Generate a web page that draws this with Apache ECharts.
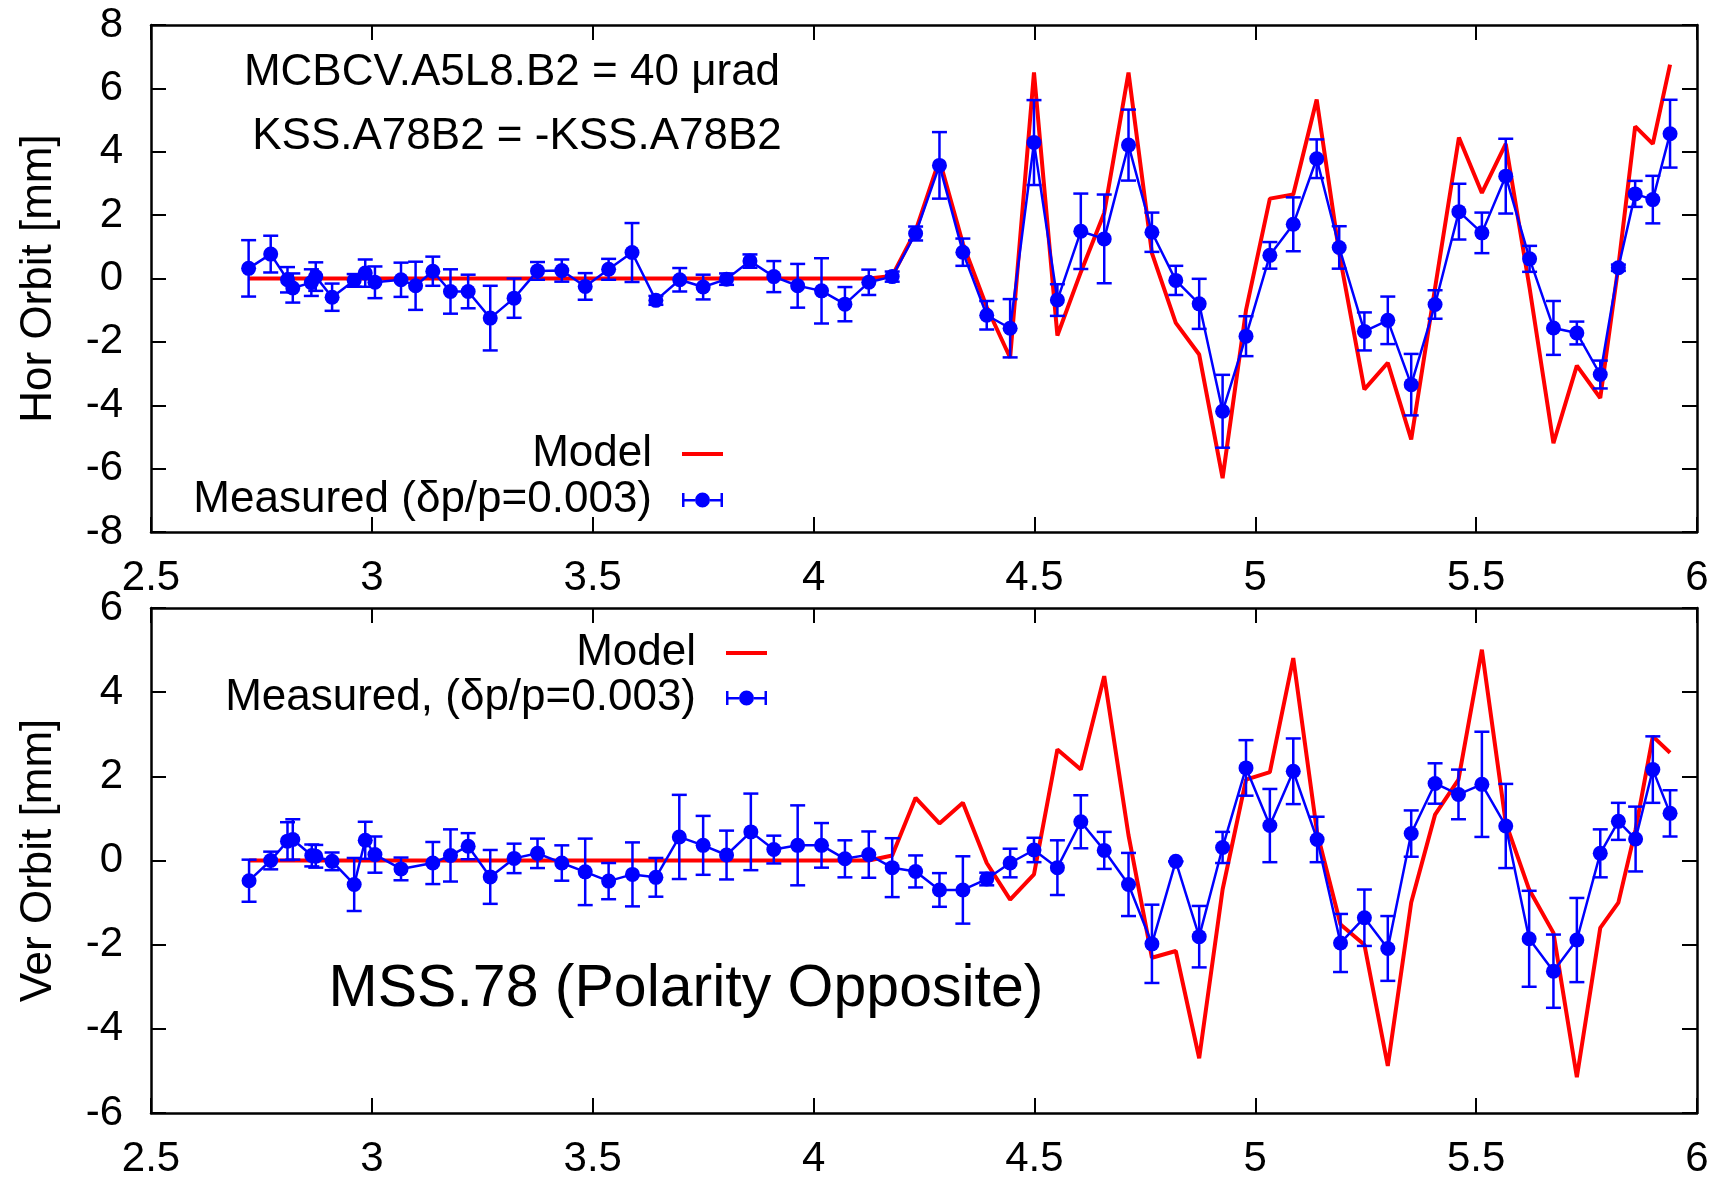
<!DOCTYPE html>
<html>
<head>
<meta charset="utf-8">
<script src="https://cdn.jsdelivr.net/npm/echarts@6/dist/echarts.min.js"></script>
<style>
html,body{margin:0;padding:0;background:#fff;}
#chart{width:1725px;height:1181px;}
</style>
</head>
<body>
<div id="chart"></div>
<script>
// ---------- Top panel (horizontal orbit) ----------
const topX = [2.721,2.771,2.809,2.821,2.863,2.873,2.91,2.96,2.985,3.007,
  3.066,3.099,3.138,3.178,3.218,3.268,3.322,3.375,3.43,3.483,
  3.536,3.589,3.643,3.697,3.75,3.803,3.856,3.91,3.964,4.018,
  4.071,4.125,4.178,4.231,4.285,4.338,4.392,4.445,4.499,4.552,
  4.605,4.658,4.713,4.766,4.82,4.873,4.926,4.979,5.033,5.086,
  5.139,5.19,5.247,5.30,5.353,5.407,5.461,5.513,5.567,5.621,
  5.675,5.728,5.781,5.822,5.86,5.9,5.939];
const topMeasured = [0.32,0.77,-0.04,-0.30,-0.13,0.06,-0.59,-0.06,0.17,-0.12,
  -0.04,-0.23,0.23,-0.41,-0.41,-1.25,-0.62,0.24,0.25,-0.25,
  0.29,0.82,-0.69,-0.04,-0.27,-0.02,0.55,0.06,-0.23,-0.39,
  -0.81,-0.12,0.06,1.42,3.57,0.83,-1.16,-1.57,4.29,-0.68,
  1.49,1.25,4.21,1.46,-0.06,-0.80,-4.19,-1.82,0.73,1.71,
  3.78,0.98,-1.67,-1.32,-3.35,-0.82,2.11,1.44,3.23,0.62,
  -1.56,-1.72,-3.03,0.34,2.67,2.49,4.57];
const topError = [0.89,0.58,0.40,0.46,0.42,0.45,0.43,0.20,0.43,0.50,
  0.54,0.76,0.46,0.70,0.53,1.02,0.62,0.28,0.35,0.42,
  0.33,0.93,0.14,0.37,0.39,0.18,0.21,0.49,0.69,1.03,
  0.54,0.40,0.16,0.22,1.05,0.43,0.45,0.92,1.34,0.50,
  1.19,1.40,1.12,0.62,0.46,0.79,1.15,0.63,0.42,0.85,
  0.61,0.67,0.60,0.75,0.97,0.45,0.88,0.64,1.18,0.41,
  0.85,0.36,0.44,0.10,0.41,0.75,1.07];
const topModel = [0,0,0,0,0,0,0,0,0,0,
  0,0,0,0,0,0,0,0,0,0,
  0,0,0,0,0,0,0,0,0,0,
  0,0,0.08,1.5,3.75,1.1,-0.9,-2.5,6.5,-1.8,
  0.2,2.07,6.5,0.8,-1.4,-2.4,-6.3,-1.0,2.52,2.65,
  5.65,0.8,-3.5,-2.66,-5.08,-0.3,4.45,2.7,4.25,-0.3,
  -5.2,-2.75,-3.77,0.39,4.8,4.25,6.75];

// ---------- Bottom panel (vertical orbit) ----------
const botX = [2.722,2.771,2.809,2.821,2.864,2.873,2.91,2.96,2.985,3.007,
  3.066,3.138,3.178,3.218,3.268,3.322,3.375,3.43,3.483,3.536,
  3.59,3.643,3.696,3.75,3.803,3.858,3.91,3.964,4.018,4.071,
  4.125,4.178,4.231,4.285,4.338,4.392,4.445,4.499,4.552,4.605,
  4.658,4.713,4.766,4.82,4.873,4.926,4.979,5.033,5.086,5.14,
  5.193,5.247,5.30,5.353,5.407,5.46,5.513,5.567,5.62,5.675,
  5.728,5.781,5.822,5.861,5.9,5.939];
const botMeasured = [-0.48,0.0,0.46,0.50,0.12,0.10,-0.02,-0.57,0.48,0.14,
  -0.20,-0.06,0.12,0.34,-0.39,0.05,0.17,-0.06,-0.27,-0.49,
  -0.33,-0.40,0.56,0.36,0.13,0.68,0.26,0.36,0.36,0.04,
  0.14,-0.17,-0.26,-0.70,-0.70,-0.44,-0.06,0.25,-0.17,0.92,
  0.24,-0.57,-1.98,-0.02,-1.81,0.31,2.20,0.83,2.12,0.50,
  -1.96,-1.36,-2.09,0.64,1.83,1.57,1.81,0.82,-1.86,-2.63,
  -1.89,0.17,0.93,0.51,2.16,1.12];
const botError = [0.50,0.21,0.45,0.48,0.26,0.27,0.21,0.63,0.44,0.43,
  0.27,0.50,0.62,0.31,0.64,0.35,0.35,0.42,0.79,0.43,
  0.76,0.46,1.00,0.70,0.58,0.91,0.33,0.95,0.53,0.44,
  0.55,0.70,0.38,0.40,0.80,0.15,0.34,0.29,0.65,0.63,
  0.44,0.75,0.93,0.0,0.73,0.37,0.66,0.87,0.78,0.54,
  0.69,0.67,0.77,0.55,0.48,0.59,1.25,1.00,1.14,0.87,
  1.00,0.57,0.44,0.77,0.79,0.55];
const botModel = [0,0,0,0,0,0,0,0,0,0,
  0,0,0,0,0,0,0,0,0,0,
  0,0,0,0,0,0,0,0,0,0,
  0,0.12,1.49,0.88,1.37,-0.06,-0.93,-0.33,2.64,2.16,
  4.38,0.6,-2.31,-2.15,-4.7,-0.69,1.92,2.1,4.81,0.66,
  -1.52,-2.0,-4.88,-1.0,1.09,1.92,5.01,0.9,-0.69,-1.72,
  -5.15,-1.6,-1.0,0.74,2.95,2.56];

const xRange = [2.5, 6, 0.5];
const topYRange = [-8, 8, 2];
const botYRange = [-6, 6, 2];

const topModelName = 'Model';
const topMeasName = 'Measured (\u03b4p/p=0.003)';
const botMeasName = 'Measured, (\u03b4p/p=0.003)';

const FONT = "'Liberation Sans', Arial, sans-serif";
const RED = '#ff0000', BLUE = '#0000ff';

function zip(a, b, c) { return a.map((v, i) => c ? [v, b[i], c[i]] : [v, b[i]]); }

function errRender(params, api) {
  const x = api.value(0), y = api.value(1), e = api.value(2);
  const hi = api.coord([x, y + e]), lo = api.coord([x, y - e]);
  const hw = 7.5;
  const st = { stroke: BLUE, lineWidth: 2.5, fill: null };
  return { type: 'group', children: [
    { type: 'line', shape: { x1: hi[0], y1: hi[1], x2: lo[0], y2: lo[1] }, style: st },
    { type: 'line', shape: { x1: hi[0] - hw, y1: hi[1], x2: hi[0] + hw, y2: hi[1] }, style: st },
    { type: 'line', shape: { x1: lo[0] - hw, y1: lo[1], x2: lo[0] + hw, y2: lo[1] }, style: st }
  ]};
}

const axisLine = { show: true, onZero: false, lineStyle: { color: '#000', width: 2.5 } };
const tick = { show: true, inside: true, length: 15, lineStyle: { color: '#000', width: 2 } };

function xAx(grid, pos, labels) {
  return { type: 'value', gridIndex: grid, position: pos, min: xRange[0], max: xRange[1], interval: xRange[2],
    axisLine, axisTick: tick, splitLine: { show: false },
    axisLabel: { show: labels, fontSize: 42, fontFamily: FONT, color: '#000', margin: 25,
      showMinLabel: true, showMaxLabel: true } };
}
function yAx(grid, pos, rng, labels, name) {
  return { type: 'value', gridIndex: grid, position: pos, min: rng[0], max: rng[1], interval: rng[2],
    axisLine, axisTick: tick, splitLine: { show: false },
    name: name || '', nameLocation: 'middle', nameGap: 90,
    nameTextStyle: { fontSize: 44, fontFamily: FONT, color: '#000' },
    axisLabel: { show: labels, fontSize: 42, fontFamily: FONT, color: '#000', margin: 28,
      showMinLabel: true, showMaxLabel: true } };
}

const errIcon = 'path://M0,1H2.5V15H0Z M38.5,1H41V15H38.5Z M2.5,7H13V9.5H2.5Z M28,7H38.5V9.5H28Z M13,8A7.5,7.5 0 1,1 28,8A7.5,7.5 0 1,1 13,8Z';

function legendRow(name, icon, h, right, top) {
  return { show: true, selectedMode: false, orient: 'horizontal', align: 'right', padding: 0,
    right: right, top: top, itemWidth: 41, itemHeight: h,
    data: [{ name: name, icon: icon }],
    textStyle: { fontSize: 44, fontFamily: FONT, color: '#000', padding: [0, 25, 0, 0] } };
}

const chart = echarts.init(document.getElementById('chart'), null, { renderer: 'canvas' });
chart.setOption({
  animation: false,
  backgroundColor: '#fff',
  grid: [
    { left: 151, right: 28, top: 25, height: 507 },
    { left: 151, right: 28, top: 608, height: 505 }
  ],
  xAxis: [ xAx(0, 'bottom', true), xAx(0, 'top', false), xAx(1, 'bottom', true), xAx(1, 'top', false) ],
  yAxis: [ yAx(0, 'left', topYRange, true, 'Hor Orbit [mm]'), yAx(0, 'right', topYRange, false),
           yAx(1, 'left', botYRange, true, 'Ver Orbit [mm]'), yAx(1, 'right', botYRange, false) ],
  legend: [
    legendRow(topModelName, 'path://M0,0H41V4H0Z', 4, 1002, 432),
    legendRow(topMeasName, errIcon, 15, 1002, 478),
    legendRow(topModelName, 'path://M0,0H41V4H0Z', 4, 958, 631),
    legendRow(botMeasName, errIcon, 15, 958, 676)
  ],
  series: [
    { name: topModelName, type: 'line', xAxisIndex: 0, yAxisIndex: 0, data: zip(topX, topModel),
      symbol: 'none', color: RED, lineStyle: { color: RED, width: 4 }, z: 2 },
    { name: topMeasName + ' err', type: 'custom', xAxisIndex: 0, yAxisIndex: 0, data: zip(topX, topMeasured, topError),
      renderItem: errRender, encode: { x: 0, y: 1 }, z: 3 },
    { name: topMeasName, type: 'line', xAxisIndex: 0, yAxisIndex: 0, data: zip(topX, topMeasured),
      symbol: 'circle', symbolSize: 15, color: BLUE, itemStyle: { color: BLUE },
      lineStyle: { color: BLUE, width: 2.5 }, z: 4 },
    { name: topModelName, type: 'line', xAxisIndex: 2, yAxisIndex: 2, data: zip(botX, botModel),
      symbol: 'none', color: RED, lineStyle: { color: RED, width: 4 }, z: 2 },
    { name: botMeasName + ' err', type: 'custom', xAxisIndex: 2, yAxisIndex: 2, data: zip(botX, botMeasured, botError),
      renderItem: errRender, encode: { x: 0, y: 1 }, z: 3 },
    { name: botMeasName, type: 'line', xAxisIndex: 2, yAxisIndex: 2, data: zip(botX, botMeasured),
      symbol: 'circle', symbolSize: 15, color: BLUE, itemStyle: { color: BLUE },
      lineStyle: { color: BLUE, width: 2.5 }, z: 4 }
  ],
  graphic: [
    { type: 'text', style: { x: 512, y: 73, text: 'MCBCV.A5L8.B2 = 40 \u03bcrad', font: '44px ' + FONT, fill: '#000', textAlign: 'center', textVerticalAlign: 'middle' } },
    { type: 'text', style: { x: 517, y: 137, text: 'KSS.A78B2 = -KSS.A78B2', font: '44px ' + FONT, fill: '#000', textAlign: 'center', textVerticalAlign: 'middle' } },
    { type: 'text', style: { x: 686, y: 990, text: 'MSS.78 (Polarity Opposite)', font: '59px ' + FONT, fill: '#000', textAlign: 'center', textVerticalAlign: 'middle' } }
  ]
});
</script>
</body>
</html>
